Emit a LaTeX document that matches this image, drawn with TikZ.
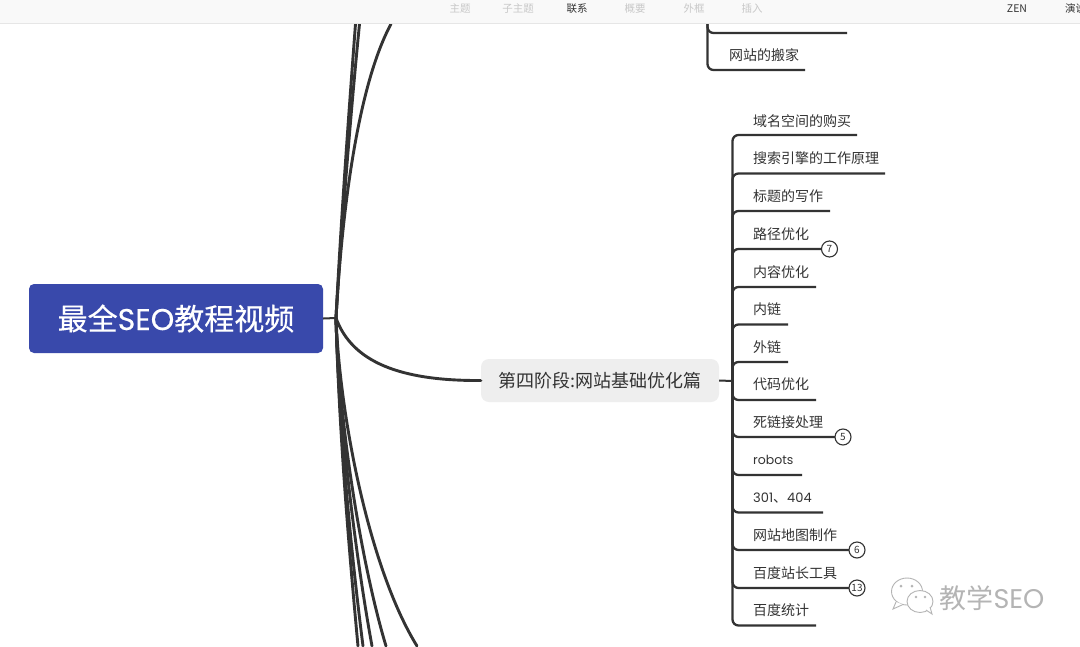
\documentclass[tikz,border=0pt]{standalone}
\usepackage{fontspec}
\setmainfont{Noto Sans CJK SC}
\newfontfamily\latinf{Poppins}
\newfontfamily\rootcjk[FakeBold=0.4]{Noto Sans CJK SC}
\newfontfamily\rootlat[FakeBold=0.4]{Poppins}
\definecolor{ink}{HTML}{333333}
\definecolor{rootblue}{HTML}{3949AB}
\definecolor{barbg}{HTML}{F9F9F9}
\definecolor{barline}{HTML}{E6E6E6}
\definecolor{mutetxt}{HTML}{C8C8C8}
\definecolor{markgrey}{HTML}{B4B4B4}
\definecolor{mainbg}{HTML}{EEEEEE}
\tikzset{
  x=1pt,y=-1pt,
  rootbox/.style={fill=rootblue,rounded corners=5pt,minimum width=294pt,minimum height=69pt,inner sep=0pt,text=white,font=\fontsize{30}{32}\selectfont},
  mainbox/.style={fill=mainbg,rounded corners=8pt,minimum width=238pt,minimum height=43pt,inner sep=0pt,text=ink,font=\fontsize{18}{20}\selectfont},
  leaf/.style={anchor=base west,inner sep=0pt,text=ink,font=\fontsize{14}{16}\selectfont},
  barlabel/.style={inner sep=0pt,text=mutetxt,font=\fontsize{10.5}{12}\selectfont},
  branch/.style={draw=ink,line width=2.9pt,line cap=round},
  twig/.style={draw=ink,line width=2.3pt,rounded corners=6pt},
  badge/.style={circle,draw=ink,line width=1.1pt,fill=white,minimum size=16pt,inner sep=0pt,text=ink,font=\fontsize{10}{11}\selectfont},
  bubble/.style={draw=markgrey,line width=0.9pt,fill=white},
}
\newcommand{\leafrow}[6]{% name, y, label, line end x, mid-end, text baseline
  \node[leaf] (#1) at (753,#6) {#3};
  \coordinate (#1e) at (#4,#2);
  \draw[twig] (spine|-0,#5) -- (spine|-#1e) -- (#1e);
}
\begin{document}
\begin{tikzpicture}
\useasboundingbox (0,0) rectangle (1080,646);
\fill[white] (0,0) rectangle (1080,646);

% root and main topic
\node[rootbox] (root) at (176,318.5) {\rootcjk 最全{\rootlat SEO}教程视频};
\coordinate (hub) at (336,318);
\node[mainbox] (main) at (600,380.5) {第四阶段:网站基础优化篇};
\draw[draw=ink,line width=2pt] (root.east) -- (hub);

% off-screen branch ends
\coordinate (t1) at (355.5,24);
\coordinate (t2) at (359.5,24);
\coordinate (t3) at (391,24);
\coordinate (b1) at (358,646);
\coordinate (b2) at (363,646);
\coordinate (b3) at (372,646);
\coordinate (b4) at (386,646);
\coordinate (b5) at (417,646);

% branches
\draw[branch] (hub) .. controls (352,362) and (400,381) .. (main.west);
\draw[branch] (hub) .. controls (341,220) and (349,110) .. (t1);
\draw[branch] (hub) .. controls (342,220) and (351,110) .. (t2);
\draw[branch] (hub) .. controls (342,210) and (358,85) .. (t3);
\draw[branch] (hub) .. controls (339,430) and (349,550) .. (b1);
\draw[branch] (hub) .. controls (339,430) and (352,560) .. (b2);
\draw[branch] (hub) .. controls (339,430) and (358,570) .. (b3);
\draw[branch] (hub) .. controls (339,430) and (363,570) .. (b4);
\draw[branch] (hub) .. controls (340,420) and (370,570) .. (b5);

% upper sibling fragment
\coordinate (u0) at (707.5,24);
\coordinate (u1) at (847,33);
\coordinate (u2) at (805,70);
\node[leaf,anchor=base west] (move) at (729,60.5) {网站的搬家};
\draw[twig] (u0) |- (u1);
\draw[twig] (u0) |- (u2);

% stem and spine
\coordinate (spine) at (732.5,381);
\draw[draw=ink,line width=2pt] (main.east) -- (spine);

\leafrow{a1}{135}{域名空间的购买}{857}{381}{126}
\leafrow{a2}{173.5}{搜索引擎的工作原理}{885}{381}{163.5}
\leafrow{a3}{211}{标题的写作}{830}{381}{201.5}
\leafrow{a4}{249}{路径优化}{824}{381}{239}
\leafrow{a5}{287}{内容优化}{816}{381}{277}
\leafrow{a6}{324.5}{内链}{788}{381}{314}
\leafrow{a7}{362}{外链}{788}{381}{352}
\leafrow{a8}{400}{代码优化}{816}{381}{389.5}
\leafrow{a9}{437}{死链接处理}{837}{381}{427}
\leafrow{a10}{475}{{\latinf\fontsize{12.5}{14}\selectfont robots}}{802}{381}{464.5}
\leafrow{a11}{512.5}{{\latinf\fontsize{13}{14}\selectfont 301}、{\latinf\fontsize{13}{14}\selectfont 404}}{823}{381}{502}
\leafrow{a12}{550}{网站地图制作}{850}{381}{540}
\leafrow{a13}{588}{百度站长工具}{850}{381}{578}
\leafrow{a14}{625.5}{百度统计}{816}{381}{615}

% count badges
\node[badge] (n7) at (829.5,249) {7};
\node[badge] (n5) at (843,437) {5};
\node[badge] (n6) at (857,550) {6};
\node[badge] (n13) at (857,588) {13};

% toolbar
\fill[barbg] (0,0) rectangle (1080,23.5);
\draw[barline,line width=0.8pt] (0,23.5) -- (1080,23.5);
\begin{scope}
\clip (0,0) rectangle (1080,24);
\node[barlabel] (tb1) at (460,8.5) {主题};
\node[barlabel] (tb2) at (518,8.5) {子主题};
\node[barlabel,text=ink] (tb3) at (577,8.5) {联系};
\node[barlabel] (tb4) at (635,8.5) {概要};
\node[barlabel] (tb5) at (694,8.5) {外框};
\node[barlabel] (tb6) at (752,8.5) {插入};
\node[barlabel,text=ink] (tb7) at (1017,8.5) {ZEN};
\node[barlabel,text=ink,anchor=west] (tb8) at (1065,8.5) {演说};
\end{scope}

% watermark
\draw[bubble] (907,591.5) ellipse (15.5 and 13.5);
\draw[bubble] (896,602) -- (893,609) -- (903,604.5);
\draw[bubble] (920,601.5) ellipse (13 and 11);
\draw[bubble] (926,610) -- (932,614) -- (930,607);
\fill[markgrey] (901,586) circle (1.5) (912,586) circle (1.5) (916,597) circle (1.3) (925,597) circle (1.3);
\node[inner sep=0pt,text=markgrey,font=\fontsize{27}{29}\selectfont] (mark) at (992,598) {教学{\latinf\fontsize{27}{29}\selectfont SEO}};
\end{tikzpicture}
\end{document}
